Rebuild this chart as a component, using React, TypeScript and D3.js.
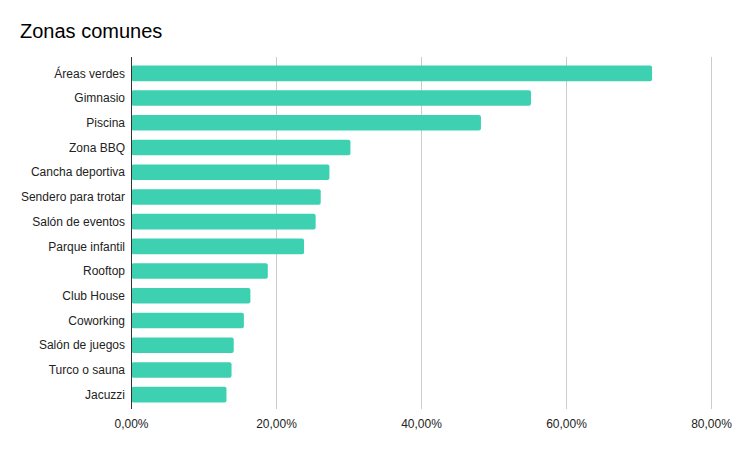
import React from "react";
import * as d3 from "d3";

const categories = [
  "Áreas verdes",
  "Gimnasio",
  "Piscina",
  "Zona BBQ",
  "Cancha deportiva",
  "Sendero para trotar",
  "Salón de eventos",
  "Parque infantil",
  "Rooftop",
  "Club House",
  "Coworking",
  "Salón de juegos",
  "Turco o sauna",
  "Jacuzzi",
];
const values = [71.8, 55.1, 48.2, 30.2, 27.3, 26.1, 25.4, 23.8, 18.8, 16.4, 15.5, 14.1, 13.8, 13.1];
const ticks = [0, 20, 40, 60, 80];

const W = 734;
const H = 452;
const FONT = "Arial, 'Liberation Sans', Helvetica, sans-serif";

export default function App() {
  const x = d3.scaleLinear().domain([0, 80]).range([131.5, 711.5]);
  const y = d3.scaleBand<string>().domain(categories).range([61, 407]).paddingInner(0.37).paddingOuter(0.185);
  const fmt = (v: number) => v.toFixed(2).replace(".", ",") + "%";
  return (
    <svg width={W} height={H} style={{ position: "absolute", left: 0, top: 0, background: "#fff" }}>
      <rect width={W} height={H} fill="#fff" />
      <text x={20} y={38} fontFamily={FONT} fontSize={20} fill="#000">Zonas comunes</text>
      {ticks.slice(1).map((t) => (
        <line key={t} x1={x(t)} x2={x(t)} y1={57} y2={409} stroke="#cccccc" strokeWidth={1} />
      ))}
      {categories.map((c, i) => (
        <g key={c}>
          <rect
            x={x(0)}
            y={y(c)!}
            width={x(values[i]) - x(0)}
            height={y.bandwidth()}
            rx={2}
            fill="#3dd1b1"
          />
          <text
            x={125}
            y={y(c)! + y.bandwidth() / 2}
            dy="0.35em"
            textAnchor="end"
            fontFamily={FONT}
            fontSize={12}
            fill="#222"
          >
            {c}
          </text>
        </g>
      ))}
      <line x1={x(0)} x2={x(0)} y1={57} y2={409} stroke="#333" strokeWidth={1} />
      {ticks.map((t) => (
        <text key={t} x={x(t)} y={428} textAnchor="middle" fontFamily={FONT} fontSize={12} fill="#222">
          {fmt(t)}
        </text>
      ))}
    </svg>
  );
}
